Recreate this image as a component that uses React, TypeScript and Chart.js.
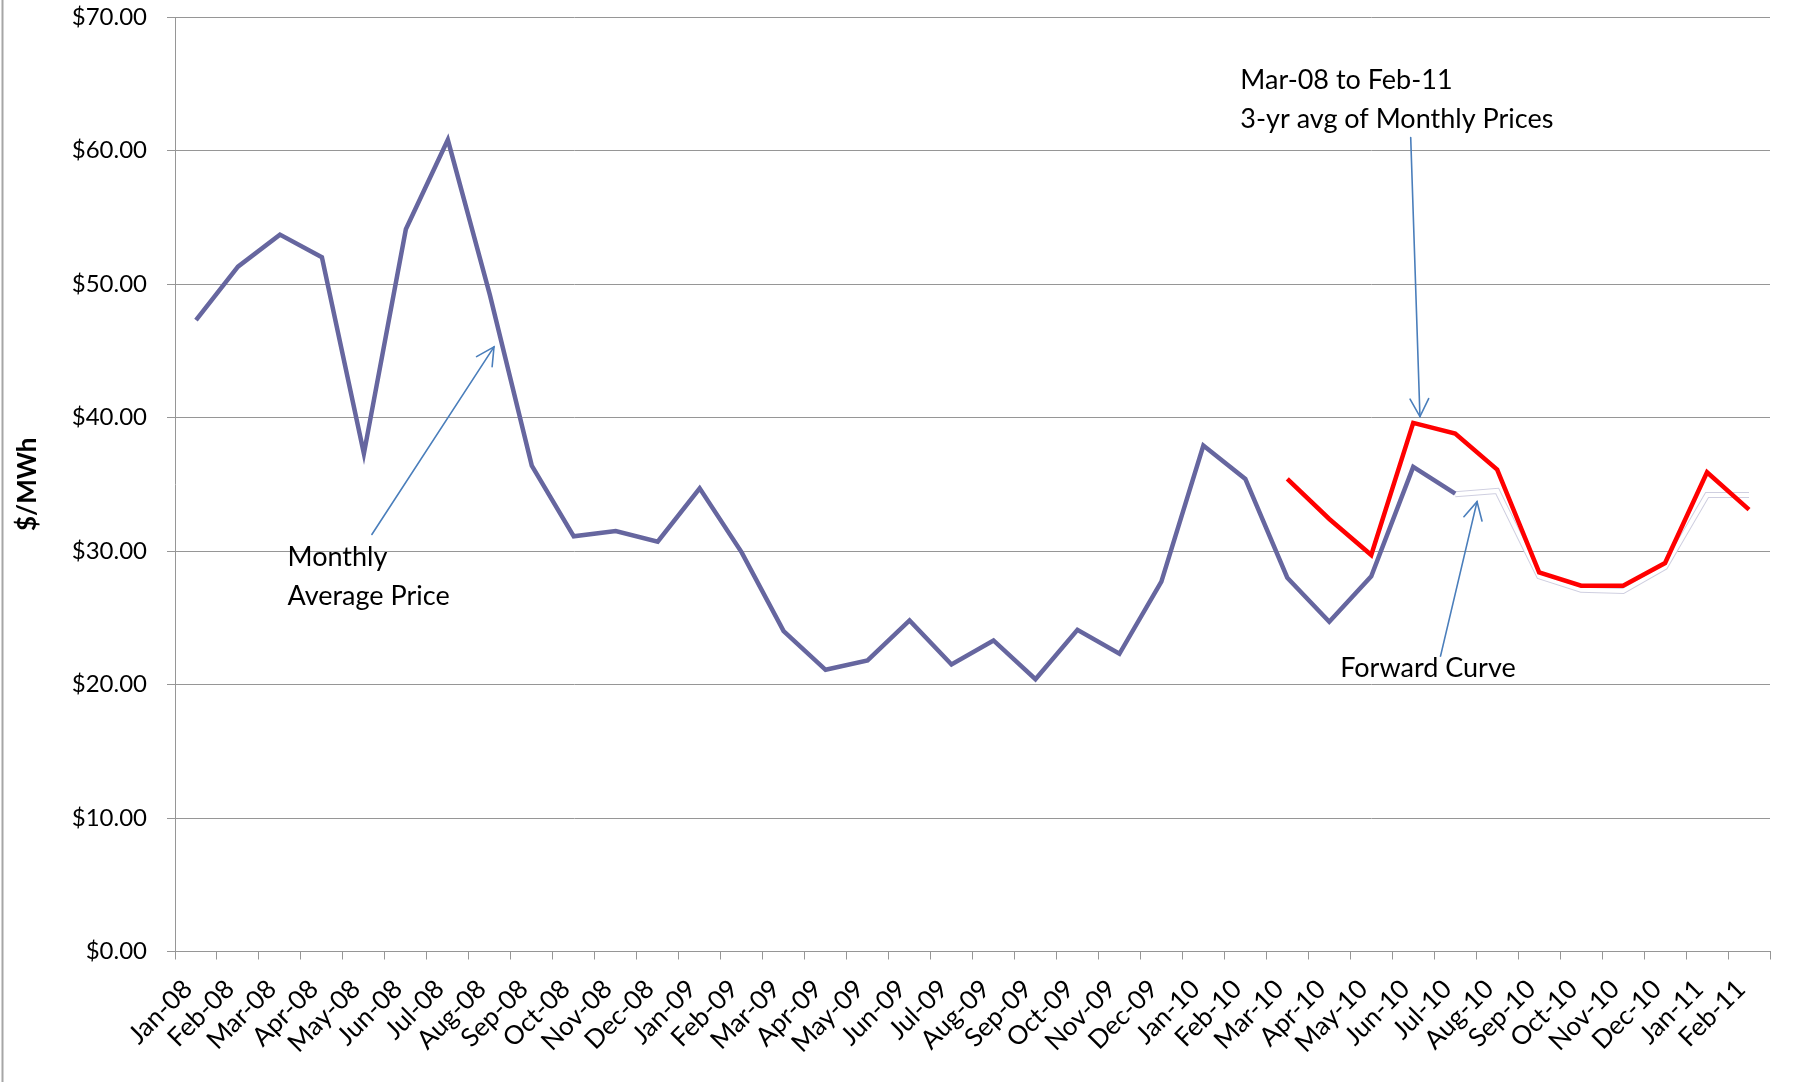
import React, { useEffect, useRef } from "react";
import { Chart, registerables } from "chart.js";

Chart.register(...registerables);

const categories = [
  "Jan-08", "Feb-08", "Mar-08", "Apr-08", "May-08", "Jun-08", "Jul-08", "Aug-08", "Sep-08", "Oct-08", "Nov-08", "Dec-08",
  "Jan-09", "Feb-09", "Mar-09", "Apr-09", "May-09", "Jun-09", "Jul-09", "Aug-09", "Sep-09", "Oct-09", "Nov-09", "Dec-09",
  "Jan-10", "Feb-10", "Mar-10", "Apr-10", "May-10", "Jun-10", "Jul-10", "Aug-10", "Sep-10", "Oct-10", "Nov-10", "Dec-10",
  "Jan-11", "Feb-11",
];

const monthlyAveragePrice: (number | null)[] = [
  47.3, 51.3, 53.7, 52.0, 37.3, 54.1, 60.8, 49.2, 36.4, 31.1, 31.5, 30.7,
  34.7, 29.9, 24.0, 21.1, 21.8, 24.8, 21.5, 23.3, 20.4, 24.1, 22.3, 27.7,
  37.9, 35.4, 28.0, 24.7, 28.1, 36.3, 34.3, null, null, null, null, null,
  null, null,
];

const threeYearAverage: (number | null)[] = [
  null, null, null, null, null, null, null, null, null, null, null, null,
  null, null, null, null, null, null, null, null, null, null, null, null,
  null, null, 35.4, 32.4, 29.7, 39.6, 38.8, 36.1, 28.4, 27.4, 27.4, 29.1,
  35.9, 33.1,
];

const forwardCurve: (number | null)[] = [
  null, null, null, null, null, null, null, null, null, null, null, null,
  null, null, null, null, null, null, null, null, null, null, null, null,
  null, null, null, null, null, null, 34.25, 34.5, 28.1, 27.1, 27.0, 28.8,
  34.2, 34.2,
];

const yMin = 0;
const yMax = 70;
const yStep = 10;
const yAxisTitle = "$/MWh";

// annotation texts: category index (fractional) for left edge, value for each line's centre
const annotationTexts = [
  { lines: ["Monthly", "Average Price"], x: 2.18, y: [29.5, 26.6] },
  { lines: ["Mar-08 to Feb-11", "3-yr avg of Monthly Prices"], x: 24.88, y: [65.25, 62.3] },
  { lines: ["Forward Curve"], x: 27.26, y: [21.2] },
];

// annotation arrows: [categoryIndex, value] from -> to (head at "to")
const annotationArrows = [
  { from: [4.19, 31.24], to: [7.1, 45.29] },
  { from: [28.94, 60.97], to: [29.16, 40.07] },
  { from: [29.65, 22.13], to: [30.52, 33.7] },
];

const FONT = "Lato, 'Open Sans', 'DejaVu Sans', sans-serif";

const annotationPlugin = {
  id: "annotations",
  afterDraw(chart: any) {
    const { ctx, scales } = chart;
    const xs = scales.x;
    const ys = scales.y;
    ctx.save();
    // outer frame line on the left
    ctx.strokeStyle = "#a6a6a6";
    ctx.lineWidth = 2;
    ctx.beginPath();
    ctx.moveTo(2.5, 0);
    ctx.lineTo(2.5, chart.height);
    ctx.stroke();

    // texts
    ctx.fillStyle = "#000";
    ctx.font = `27px ${FONT}`;
    ctx.textAlign = "left";
    ctx.textBaseline = "middle";
    for (const t of annotationTexts) {
      const px = xs.getPixelForValue(t.x);
      t.lines.forEach((line, i) => {
        ctx.fillText(line, px, ys.getPixelForValue(t.y[i]));
      });
    }

    // arrows
    ctx.strokeStyle = "#4a7ebb";
    ctx.lineWidth = 1.6;
    ctx.lineCap = "round";
    for (const a of annotationArrows) {
      const x1 = xs.getPixelForValue(a.from[0]);
      const y1 = ys.getPixelForValue(a.from[1]);
      const x2 = xs.getPixelForValue(a.to[0]);
      const y2 = ys.getPixelForValue(a.to[1]);
      ctx.beginPath();
      ctx.moveTo(x1, y1);
      ctx.lineTo(x2, y2);
      ctx.stroke();
      const ang = Math.atan2(y2 - y1, x2 - x1);
      const len = 20;
      const spread = Math.PI / 6.5;
      ctx.beginPath();
      ctx.moveTo(x2 - len * Math.cos(ang - spread), y2 - len * Math.sin(ang - spread));
      ctx.lineTo(x2, y2);
      ctx.lineTo(x2 - len * Math.cos(ang + spread), y2 - len * Math.sin(ang + spread));
      ctx.stroke();
    }
    ctx.restore();
  },
};

export default function App() {
  const canvasRef = useRef<HTMLCanvasElement | null>(null);

  useEffect(() => {
    if (!canvasRef.current) return;
    const gridColor = "#969696";
    const chart = new Chart(canvasRef.current, {
      type: "line",
      data: {
        labels: categories,
        datasets: [
          {
            label: "3-yr avg of Monthly Prices",
            data: threeYearAverage,
            borderColor: "#ff0000",
            borderWidth: 4.5,
            pointRadius: 0,
            fill: false,
            order: 0,
          },
          {
            label: "Monthly Average Price",
            data: monthlyAveragePrice,
            borderColor: "#66669f",
            borderWidth: 4.5,
            pointRadius: 0,
            fill: false,
            order: 1,
          },
          {
            label: "Forward Curve",
            data: forwardCurve,
            borderColor: "#ffffff",
            borderWidth: 4,
            pointRadius: 0,
            fill: false,
            order: 2,
          },
          {
            label: "Forward Curve outline",
            data: forwardCurve,
            borderColor: "#cfcfe0",
            borderWidth: 6,
            pointRadius: 0,
            fill: false,
            order: 3,
          },
        ],
      },
      options: {
        animation: false,
        responsive: false,
        maintainAspectRatio: false,
        layout: { padding: { top: 17, right: 32, left: 0, bottom: 0 } },
        plugins: {
          legend: { display: false },
          tooltip: { enabled: false },
        },
        scales: {
          x: {
            type: "category",
            offset: true,
            grid: {
              display: true,
              drawOnChartArea: false,
              drawTicks: true,
              tickLength: 8,
              offset: true,
              color: gridColor,
            },
            border: { display: true, color: gridColor, width: 1 },
            ticks: {
              autoSkip: false,
              minRotation: 45,
              maxRotation: 45,
              padding: 14,
              labelOffset: -8,
              color: "#000",
              font: { family: FONT, size: 26 },
            },
            afterFit: (scale: any) => {
              scale.height = 1082 - 951.5;
            },
          },
          y: {
            min: yMin,
            max: yMax,
            grid: {
              color: gridColor,
              drawTicks: true,
              tickLength: 8,
            },
            border: { display: true, color: gridColor, width: 1 },
            ticks: {
              stepSize: yStep,
              padding: 20,
              color: "#000",
              font: { family: FONT, size: 24 },
              callback: (v: any) => "$" + Number(v).toFixed(2),
            },
            title: {
              display: true,
              text: yAxisTitle,
              color: "#000",
              font: { family: FONT, size: 26, weight: "bold" },
              padding: { top: 12, bottom: 0 },
            },
            afterFit: (scale: any) => {
              scale.width = 175;
              scale.paddingTop = 0;
              scale.paddingBottom = 0;
            },
          },
        },
      },
      plugins: [annotationPlugin],
    });
    return () => chart.destroy();
  }, []);

  return (
    <div style={{ position: "fixed", left: 0, top: 0, width: 1802, height: 1082, background: "#fff" }}>
      <canvas ref={canvasRef} width={1802} height={1082} style={{ width: 1802, height: 1082, display: "block" }} />
    </div>
  );
}
